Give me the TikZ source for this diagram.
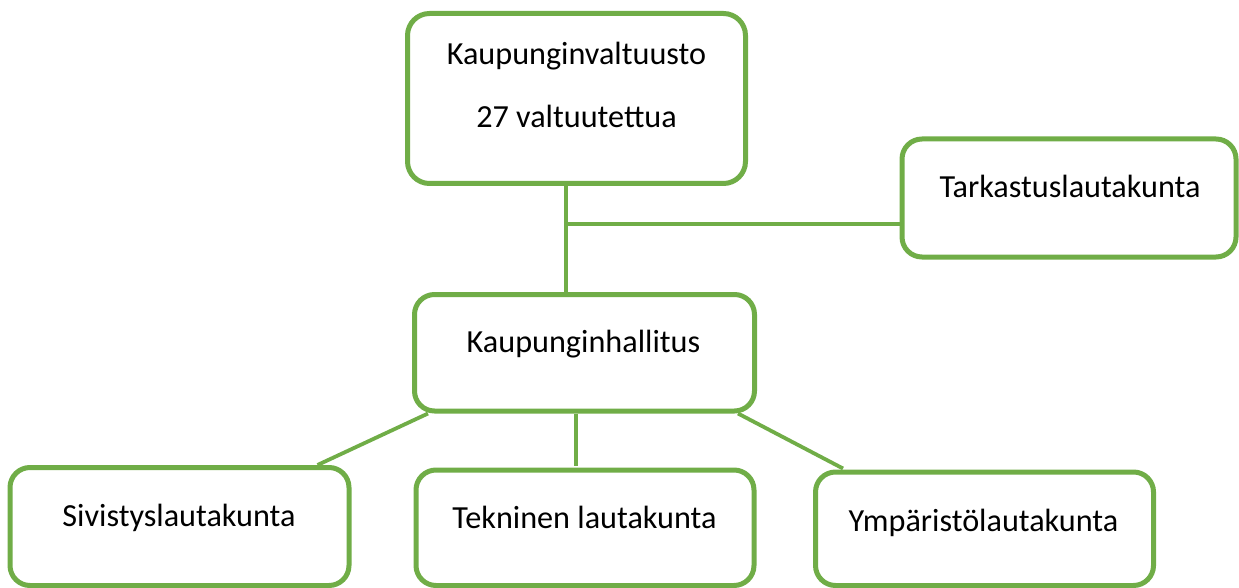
\documentclass[tikz,border=0pt]{standalone}
\usepackage{fontspec}
\setmainfont{Carlito}
\definecolor{ogreen}{HTML}{70AD47}
\begin{document}
\begin{tikzpicture}[x=1pt,y=-1pt,
  orgbox/.style={draw=ogreen, line width=5pt, rounded corners=20pt, rectangle, inner sep=0pt, fill=white},
  lbl/.style={anchor=base, inner sep=0pt, font=\fontsize{32.2}{38}\selectfont},
  conn/.style={draw=ogreen, line width=3.8pt}]
\useasboundingbox (0,0) rectangle (1239,588);
\node[orgbox, rounded corners=22pt, minimum width=338pt, minimum height=170pt] (V) at (576.5,98.5) {};
\node[orgbox, minimum width=334pt, minimum height=118pt] (T) at (1069,198) {};
\node[orgbox, minimum width=340pt, minimum height=116.5pt] (H) at (584.5,352.75) {};
\node[orgbox, minimum width=339pt, minimum height=118pt] (S) at (179.5,526.5) {};
\node[orgbox, minimum width=338pt, minimum height=115.5pt] (Te) at (585,527.75) {};
\node[orgbox, minimum width=338pt, minimum height=113.5pt] (Y) at (984.5,528.75) {};
\node[lbl] (V1) at (576.5,65) {Kaupunginvaltuusto};
\node[lbl] (V2) at (576.5,128) {27 valtuutettua};
\node[lbl] (T1) at (1070,197.3) {Tarkastuslautakunta};
\node[lbl] (H1) at (583.5,352.7) {Kaupunginhallitus};
\node[lbl] (S1) at (179,526.7) {Sivistyslautakunta};
\node[lbl] (Te1) at (584.5,528.3) {Tekninen lautakunta};
\node[lbl] (Y1) at (983.5,531.7) {Ympäristölautakunta};
\coordinate (j) at (566,223.7);
\draw[conn] (V.south -| j) -- (H.north -| j);
\draw[conn] (j) -- (j -| T.west);
\draw[conn] ([xshift=16pt]H.south west) -- ([xshift=-34pt]S.north east);
\draw[conn] ([xshift=-8.5pt]H.south) -- ([xshift=-9pt,yshift=2pt]Te.north);
\draw[conn] ([xshift=-19pt]H.south east) -- ([xshift=30pt,yshift=1pt]Y.north west);
\end{tikzpicture}
\end{document}
